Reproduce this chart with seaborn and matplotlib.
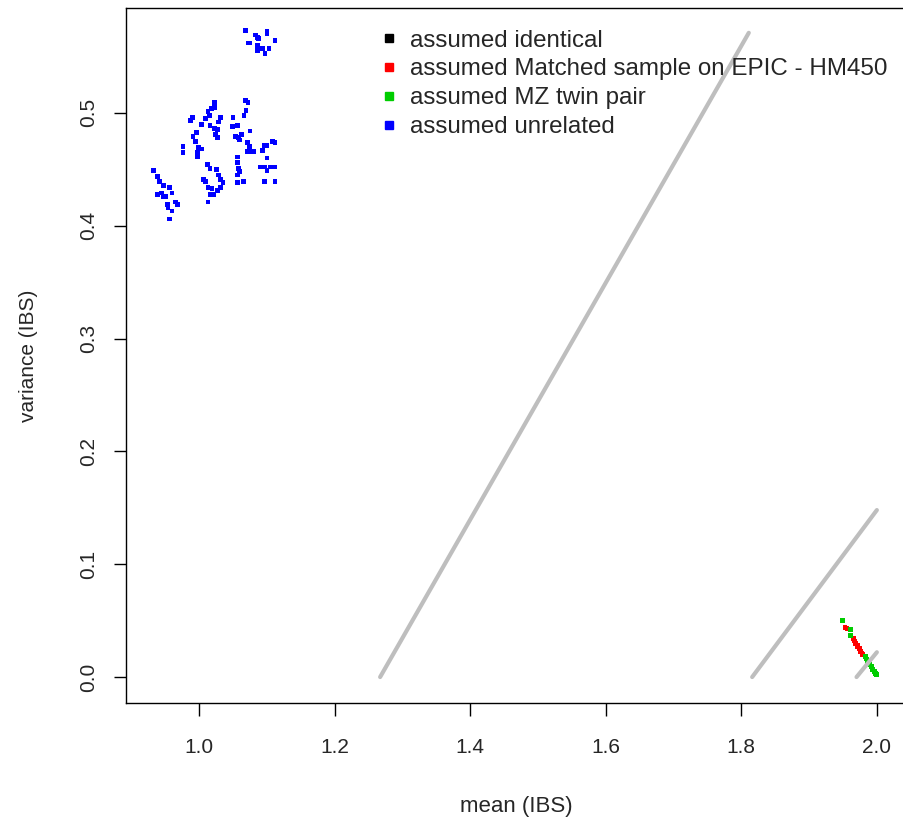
import pandas as pd
import matplotlib.pyplot as plt
import seaborn as sns
from matplotlib.lines import Line2D

# Pairwise IBS mean / variance
unrelated_mean = [1.068, 1.083, 1.086, 1.100, 1.100, 1.088, 1.075, 1.072, 1.086, 1.112, 1.086, 1.094, 1.097, 1.103,
                  0.932, 0.938, 0.942, 0.947, 0.956, 0.960, 0.938, 0.944, 0.947, 0.951, 0.965, 0.968, 0.953, 0.954, 0.960, 0.956,
                  0.990, 0.987, 1.003, 0.996, 0.991, 0.994, 0.999, 1.003, 0.997, 0.997, 0.976, 0.976,
                  1.022, 1.018, 1.013, 1.015, 1.009, 1.022, 1.031, 1.028, 1.016, 1.022, 1.027, 1.024, 1.027,
                  1.012, 1.016, 1.025, 1.028, 1.006, 1.009, 1.031, 1.035, 1.013, 1.019, 1.031, 1.027, 1.021, 1.016, 1.013,
                  1.068, 1.072, 1.069, 1.066, 1.050, 1.049, 1.056, 1.053, 1.058, 1.063, 1.060, 1.075, 1.071, 1.074,
                  1.071, 1.078, 1.081, 1.056, 1.056, 1.058, 1.060, 1.056, 1.056, 1.065,
                  1.096, 1.100, 1.108, 1.112, 1.094, 1.100, 1.090, 1.097, 1.105, 1.112, 1.100, 1.096, 1.112]
unrelated_var = [0.573, 0.569, 0.567, 0.572, 0.570, 0.566, 0.562, 0.562, 0.560, 0.564, 0.555, 0.557, 0.553, 0.557,
                 0.449, 0.444, 0.439, 0.436, 0.434, 0.429, 0.428, 0.429, 0.426, 0.426, 0.421, 0.419, 0.419, 0.416, 0.413, 0.406,
                 0.496, 0.493, 0.490, 0.483, 0.479, 0.475, 0.469, 0.468, 0.465, 0.461, 0.470, 0.465,
                 0.509, 0.504, 0.501, 0.498, 0.495, 0.505, 0.496, 0.492, 0.489, 0.486, 0.485, 0.481, 0.478,
                 0.454, 0.451, 0.450, 0.445, 0.441, 0.439, 0.441, 0.438, 0.434, 0.433, 0.434, 0.431, 0.428, 0.428, 0.421,
                 0.511, 0.509, 0.502, 0.498, 0.496, 0.488, 0.489, 0.479, 0.478, 0.481, 0.476, 0.484, 0.474, 0.470,
                 0.466, 0.466, 0.466, 0.461, 0.456, 0.451, 0.448, 0.445, 0.438, 0.439,
                 0.471, 0.471, 0.475, 0.474, 0.467, 0.460, 0.452, 0.452, 0.452, 0.452, 0.449, 0.439, 0.439]

matched_mean = [1.953, 1.956, 1.965, 1.967, 1.969, 1.971, 1.972, 1.974, 1.976, 1.978, 1.979]
matched_var = [0.044, 0.043, 0.034, 0.032, 0.030, 0.028, 0.027, 0.025, 0.023, 0.021, 0.020]

mz_mean = [1.949, 1.961, 1.961, 1.983, 1.985, 1.986, 1.988, 1.990, 1.992, 1.994, 1.996, 1.998, 2.000]
mz_var = [0.050, 0.042, 0.037, 0.018, 0.016, 0.014, 0.012, 0.011, 0.009, 0.007, 0.005, 0.003, 0.002]

# Grey reference lines (start / end)
ref_mean = [[1.267, 1.811], [1.816, 2.000], [1.970, 2.000]]
ref_var = [[0.000, 0.571], [0.000, 0.148], [0.000, 0.022]]

groups = ['assumed identical', 'assumed Matched sample on EPIC - HM450',
          'assumed MZ twin pair', 'assumed unrelated']
colors = {'assumed identical': 'black',
          'assumed Matched sample on EPIC - HM450': '#FF0000',
          'assumed MZ twin pair': '#00CD00',
          'assumed unrelated': '#0000FF'}

df = pd.concat([
    pd.DataFrame({'mean': unrelated_mean, 'var': unrelated_var, 'group': 'assumed unrelated'}),
    pd.DataFrame({'mean': matched_mean, 'var': matched_var, 'group': 'assumed Matched sample on EPIC - HM450'}),
    pd.DataFrame({'mean': mz_mean, 'var': mz_var, 'group': 'assumed MZ twin pair'}),
], ignore_index=True)

sns.set_style('ticks')
plt.rcParams['font.family'] = ['Liberation Sans', 'DejaVu Sans']

fig = plt.figure(figsize=(9.04, 8.22), dpi=100)
ax = fig.add_axes([126 / 904, 119 / 822, 780 / 904, 695 / 822])

for xs, ys in zip(ref_mean, ref_var):
    sns.lineplot(x=xs, y=ys, color='#BEBEBE', lw=3, ax=ax)

sns.scatterplot(data=df, x='mean', y='var', hue='group', palette=colors, marker='s',
                s=12, linewidth=0, legend=False, ax=ax)

ax.set_xlim(0.892, 2.043)
ax.set_ylim(-0.023, 0.593)
ax.set_xticks([1.0, 1.2, 1.4, 1.6, 1.8, 2.0])
ax.set_yticks([0.0, 0.1, 0.2, 0.3, 0.4, 0.5])
ax.set_xticklabels(['1.0', '1.2', '1.4', '1.6', '1.8', '2.0'])
ax.set_yticklabels(['0.0', '0.1', '0.2', '0.3', '0.4', '0.5'], rotation=90, va='center')
ax.tick_params(length=9, width=1, labelsize=15, color='black')
ax.tick_params(axis='x', pad=16)
ax.tick_params(axis='y', pad=11)
for sp in ax.spines.values():
    sp.set_linewidth(1)
    sp.set_color('black')
ax.set_xlabel('mean (IBS)', fontsize=16, labelpad=28)
ax.set_ylabel('variance (IBS)', fontsize=15, labelpad=30)

# legend like R: filled squares, no frame
handles = [Line2D([], [], marker='s', color=colors[g], ls='', markersize=6) for g in groups]
ax.legend(handles, groups, frameon=False, loc='upper left', fontsize=17.4,
          bbox_to_anchor=(371 / 904, 1 - 20 / 822), bbox_transform=fig.transFigure,
          handlelength=0.7, handletextpad=0.5, labelspacing=0.28, borderaxespad=0)

fig.savefig('out.png', dpi=100)
